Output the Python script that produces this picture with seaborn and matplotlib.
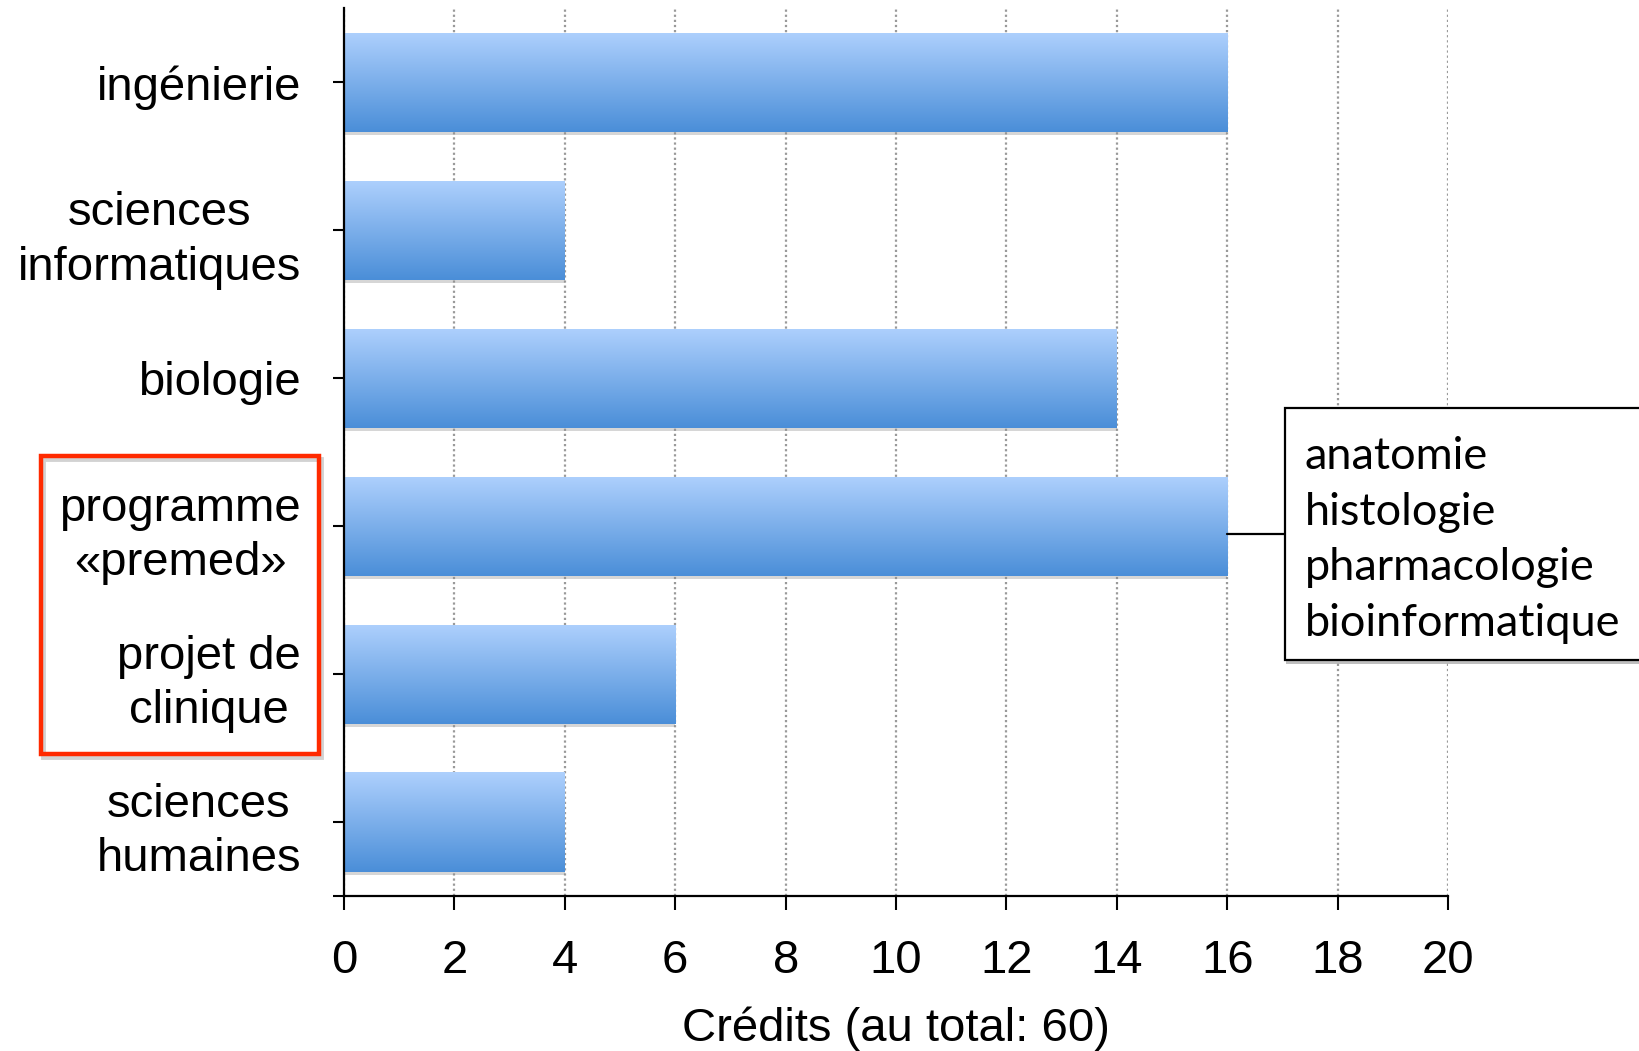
import numpy as np
import pandas as pd
import matplotlib
matplotlib.use("Agg")
import matplotlib.pyplot as plt
import seaborn as sns
from matplotlib.colors import LinearSegmentedColormap
from matplotlib.patches import Rectangle
from matplotlib.lines import Line2D
import matplotlib.patheffects as pe

categories = ["ingénierie", "sciences\ninformatiques", "biologie",
              "programme\n«premed»", "projet de\nclinique", "sciences\nhumaines"]
credits = [16, 4, 14, 16, 6, 4]
xticks = [0, 2, 4, 6, 8, 10, 12, 14, 16, 18, 20]
xlabel = "Crédits (au total: 60)"
note_lines = ["anatomie", "histologie", "pharmacologie", "bioinformatique"]
note_index = 3

sns.set_style("ticks")
plt.rcParams['font.family'] = ['Liberation Sans', 'DejaVu Sans']
for k in ["text.color", "axes.labelcolor", "xtick.color", "ytick.color", "xtick.labelcolor", "ytick.labelcolor"]:
    plt.rcParams[k] = "black"

df = pd.DataFrame({"cat": categories, "val": credits})

fig = plt.figure(figsize=(16.39, 10.51), dpi=100)
ax = fig.add_axes([0.2099, 0.1475, 0.6736, 0.8445])

sns.barplot(data=df, x="val", y="cat", orient="h", ax=ax, width=0.67,
            color="#4b8fd8", saturation=1, edgecolor="none", linewidth=0)

cmap = LinearSegmentedColormap.from_list("g", ["#aed0fd", "#4a8ed8"])
grad = np.linspace(0, 1, 256).reshape(-1, 1)
for p in list(ax.patches):
    p.set_path_effects([pe.SimplePatchShadow(offset=(0, -2.5), shadow_rgbFace=(0.55, 0.55, 0.55), alpha=0.35),
                        pe.Normal()])
    x0, y0, w, h = p.get_x(), p.get_y(), p.get_width(), p.get_height()
    im = ax.imshow(grad, extent=[x0, x0 + w, y0 + h, y0], aspect="auto", cmap=cmap,
                   origin="upper", zorder=p.get_zorder() + 0.1, interpolation="bilinear")
    im.set_clip_path(p)

ax.set_xlim(0, 20)
ax.set_ylim(5.5, -0.5)
ax.set_aspect("auto")
ax.set_xticks(xticks)
ax.set_xticklabels([str(t) for t in xticks])
ax.xaxis.grid(True, linestyle=(0, (1, 1.3)), color="#9a9a9a", linewidth=1.6)
ax.yaxis.grid(False)
ax.set_axisbelow(True)

for s in ["top", "right"]:
    ax.spines[s].set_visible(False)
for s in ["left", "bottom"]:
    ax.spines[s].set_linewidth(1.6)
    ax.spines[s].set_color("black")

ax.tick_params(axis="y", length=8, width=1.5, color="black", pad=23, labelsize=34, labelcolor="black")
ax.tick_params(axis="x", length=10, width=1.5, color="black", pad=21, labelsize=34, labelcolor="black")
ax.set_yticks(range(len(categories)))
ax.set_yticks([5.5], minor=True)
ax.tick_params(axis="y", which="minor", length=8, width=1.5, color="black")
ax.set_yticklabels(categories)
for lbl in ax.get_yticklabels():
    lbl.set_multialignment("center")
    lbl.set_linespacing(1.3)

ax.set_ylabel("")
ax.set_xlabel(xlabel, fontsize=34, labelpad=17, color="black")

# red box around two labels (with soft shadow)
rx, ry, rw, rh = 41 / 1639, (1051 - 754) / 1051, 278 / 1639, 298 / 1051
shadow = Rectangle((rx + 2 / 1639, ry - 3 / 1051), rw, rh, transform=fig.transFigure, fill=False,
                   edgecolor=(0.5, 0.5, 0.5), alpha=0.35, linewidth=3.5, clip_on=False, zorder=4)
fig.add_artist(shadow)
red = Rectangle((rx, ry), rw, rh, transform=fig.transFigure, fill=False, edgecolor="#ff2a00",
                linewidth=3.2, clip_on=False, zorder=5)
fig.add_artist(red)

# annotation box
bx0, by0, bw, bh = 1285 / 1639, (1051 - 660) / 1051, (1650 - 1285) / 1639, 252 / 1051
box = Rectangle((bx0, by0), bw, bh, transform=fig.transFigure, facecolor="white",
                edgecolor="black", linewidth=1.6, clip_on=False, zorder=5)
box.set_path_effects([pe.SimplePatchShadow(offset=(1, -3), shadow_rgbFace=(0.45, 0.45, 0.45), alpha=0.45),
                      pe.Normal()])
fig.add_artist(box)
fig.text(1305 / 1639, by0 + bh / 2 - 6 / 1051, "\n".join(note_lines), va="center", ha="left",
         fontsize=32.5, family=["Lato", "DejaVu Sans"], linespacing=1.45, zorder=6, color="black")

fig.canvas.draw()
xs = fig.transFigure.inverted().transform(ax.transData.transform((credits[note_index], 0)))[0]
fig.add_artist(Line2D([xs, bx0], [by0 + bh / 2, by0 + bh / 2], transform=fig.transFigure,
                      color="black", linewidth=1.6, zorder=4))

fig.savefig("out.png", dpi=100)
